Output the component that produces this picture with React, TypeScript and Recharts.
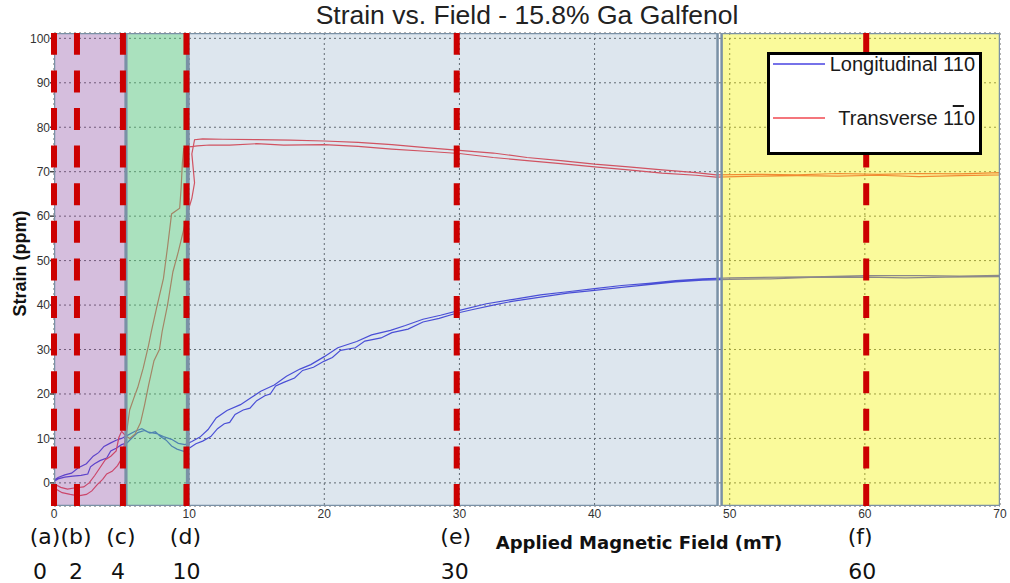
import React from 'react';
import { LineChart, Line, XAxis, YAxis, CartesianGrid, ReferenceArea, ReferenceLine, Legend } from 'recharts';

type Pt = [number, number];

// field (mT), strain (ppm) — rising then falling branch of each loop
const longitudinalUp: Pt[] = [
  [0, 0.3], [0.3, 0.9], [0.8, 1.3], [1.4, 1.5], [2.0, 1.7], [2.5, 2.0], [2.7, 3.6], [3.0, 4.3], [3.4, 5.0],
  [3.9, 5.6], [4.2, 7.2], [4.6, 7.8], [5.0, 8.6], [5.4, 9.0], [5.8, 10.2], [6.2, 11.3], [6.7, 11.8], [7.1, 11.2],
  [7.5, 11.5], [7.9, 10.4], [8.3, 9.6], [8.7, 8.3], [9.1, 7.6], [9.6, 7.1], [10.0, 7.8], [10.5, 8.8], [11.0, 9.4],
  [11.6, 10.4], [12.1, 12.2], [12.6, 13.3], [13.0, 13.6], [13.4, 15.4], [14.0, 16.4], [14.5, 16.8], [15.0, 18.5],
  [15.6, 19.6], [16.0, 20.0], [16.4, 21.8], [17.0, 22.6], [17.8, 23.6], [18.4, 25.3], [19.2, 26.0], [20.0, 27.4],
  [20.6, 28.2], [21.2, 29.8], [22.3, 30.4], [23.0, 31.9], [24.2, 32.6], [25.0, 33.8], [26.2, 34.6], [27.3, 36.2],
  [28.5, 37.0], [29.7, 38.1], [31.0, 39.0], [32.5, 40.0], [34.0, 40.9], [36.0, 41.8], [38.0, 42.7], [40.0, 43.3],
  [42.0, 44.0], [44.0, 44.6], [46.0, 45.2], [48.0, 45.6], [50.0, 45.8], [53.0, 45.9], [56.0, 46.2], [60.0, 46.3],
  [63.0, 46.1], [66.0, 46.3], [70.0, 46.4],
];
const longitudinalDown: Pt[] = [
  [70.0, 46.7], [67.0, 46.5], [64.0, 46.6], [60.0, 46.6], [57.0, 46.4], [54.0, 46.3], [50.0, 46.1], [48.0, 45.9],
  [46.0, 45.5], [44.0, 44.9], [42.0, 44.4], [40.0, 43.7], [38.0, 43.0], [36.0, 42.3], [34.0, 41.3], [32.0, 40.3],
  [30.0, 38.8], [28.6, 37.7], [27.3, 36.8], [26.0, 35.4], [24.9, 34.3], [23.5, 33.3], [22.4, 31.8], [21.0, 30.4],
  [20.0, 28.4], [19.0, 26.6], [18.2, 25.6], [17.2, 24.0], [16.3, 22.0], [15.3, 20.6], [14.6, 19.2], [13.8, 17.6],
  [12.8, 16.3], [12.0, 14.6], [11.4, 12.0], [10.8, 10.3], [10.2, 9.3], [9.7, 8.6], [9.2, 8.9], [8.7, 9.8],
  [8.1, 10.4], [7.6, 11.1], [7.0, 11.4], [6.5, 12.2], [6.0, 11.6], [5.5, 10.8], [5.0, 10.0], [4.6, 9.6], [4.2, 9.0],
  [3.7, 8.2], [3.3, 6.8], [2.9, 6.0], [2.4, 4.3], [1.8, 3.4], [1.3, 2.2], [0.8, 1.8], [0.3, 1.2], [0, 0.6],
];
const transverseUp: Pt[] = [
  [0, -0.3], [0.2, -1.5], [0.6, -2.2], [1.2, -2.6], [1.8, -2.9], [2.4, -2.6], [2.8, -1.8], [3.2, -0.4], [3.6, 0.8],
  [3.9, 2.0], [4.3, 2.6], [4.7, 3.9], [5.0, 5.4], [5.2, 8.5], [5.4, 12.0], [5.6, 16.4], [5.9, 19.0], [6.2, 21.5],
  [6.6, 25.8], [7.0, 31.0], [7.2, 34.0], [7.6, 39.5], [8.1, 46.0], [8.4, 53.0], [8.7, 60.5], [9.3, 61.8], [9.4, 66.0],
  [9.5, 72.0], [9.6, 75.2], [10.0, 75.6], [10.6, 75.8], [11.5, 76.0], [13.0, 76.0], [15.0, 76.3], [17.0, 76.0],
  [20.0, 76.1], [22.5, 75.7], [25.0, 75.1], [27.5, 74.6], [30.0, 74.1], [32.5, 73.2], [35.0, 72.5], [37.5, 71.8],
  [40.0, 71.1], [42.5, 70.4], [45.0, 69.7], [47.5, 69.2], [49.0, 68.8], [52.0, 69.0], [55.0, 69.1], [58.0, 69.0],
  [61.0, 69.2], [64.0, 68.9], [67.0, 69.1], [70.0, 69.3],
];
const transverseDown: Pt[] = [
  [70.0, 69.8], [67.0, 69.5], [64.0, 69.6], [61.0, 69.4], [58.0, 69.6], [55.0, 69.3], [52.0, 69.4], [49.0, 69.3],
  [47.5, 69.8], [45.0, 70.4], [42.5, 71.1], [40.0, 71.7], [37.5, 72.5], [35.0, 73.2], [32.5, 74.2], [30.0, 74.8],
  [27.5, 75.4], [25.0, 76.1], [22.5, 76.6], [20.0, 76.9], [17.5, 77.1], [15.0, 77.2], [12.5, 77.3], [11.0, 77.4],
  [10.4, 77.2], [10.2, 74.0], [10.4, 67.5], [10.2, 64.0], [9.9, 61.0], [9.6, 57.0], [9.2, 52.0], [8.8, 47.5],
  [8.4, 40.0], [8.0, 34.0], [7.8, 30.0], [7.4, 27.5], [7.0, 22.0], [6.7, 17.5], [6.4, 13.5], [6.0, 11.0],
  [5.6, 10.0], [5.3, 10.6], [5.0, 11.6], [4.8, 10.2], [4.6, 7.2], [4.2, 6.0], [3.8, 5.2], [3.4, 3.4], [3.0, 1.6],
  [2.6, 0.0], [2.2, -0.9], [1.6, -1.1], [1.0, -1.4], [0.5, -1.0], [0, -0.2],
];

const seriesNames = ['Longitudinal 110', 'Transverse 110'];

// shaded field regions (mT)
const regionStart = [0, 5.35, 9.95, 49.4];
const regionEnd = [5.3, 9.85, 49.1, 70];

// dashed markers
const markerField = [0, 1.7, 5.1, 9.8, 29.8, 60.1];
const markerLetter = ['(a)', '(b)', '(c)', '(d)', '(e)', '(f)'];
const markerValue = ['0', '2', '4', '10', '30', '60'];

const xTicks = [0, 10, 20, 30, 40, 50, 60, 70];
const yTicks = [0, 10, 20, 30, 40, 50, 60, 70, 80, 90, 100];

const regionFill = ['#87459f', '#55c37d', '#5582aa', '#f3f305'];
const regionOpacity = [0.35, 0.5, 0.2, 0.4];
const letterNudge = [-9, -1, -2, -1, -1, -6];
const valueNudge = [-14, -1, -5, 0, -2, -4];

const toPoints = (up: Pt[], down: Pt[]) => [...up, ...down].map(([x, y]) => ({ x, y }));

const gothic = '"DejaVu Sans", sans-serif';
const arial = '"Liberation Sans", Arial, sans-serif';

function MarkerLabel(props: any) {
  const { viewBox, index } = props;
  if (!viewBox) return null;
  const x = viewBox.x;
  const bottom = viewBox.y + viewBox.height;
  return (
    <g fontFamily={gothic} fontSize={22} fill="#111">
      <text x={x + letterNudge[index]} y={bottom + 38} textAnchor="middle">{markerLetter[index]}</text>
      <text x={x + valueNudge[index]} y={bottom + 73} textAnchor="middle">{markerValue[index]}</text>
    </g>
  );
}

function XLabel(props: any) {
  const { viewBox } = props;
  const cx = viewBox.x + viewBox.width / 2 + 112;
  return (
    <text x={cx} y={viewBox.y + 43} textAnchor="middle" fontFamily={gothic} fontWeight="bold" fontSize={18} fill="#111">
      Applied Magnetic Field (mT)
    </text>
  );
}

function YLabel(props: any) {
  const { viewBox } = props;
  const cx = viewBox.x + 20;
  const cy = viewBox.y + viewBox.height / 2 - 6;
  return (
    <text x={cx} y={cy} transform={`rotate(-90 ${cx} ${cy})`} textAnchor="middle" dominantBaseline="central"
      fontFamily={arial} fontWeight="bold" fontSize={18} fill="#111">
      Strain (ppm)
    </text>
  );
}

function LegendBox(props: any) {
  const payload = props.payload || [];
  return (
    <div style={{ width: 209, height: 97, border: '3px solid #000', background: '#fff', position: 'relative', fontFamily: arial, fontSize: 20, color: '#1a1a1a' }}>
      {payload.map((entry: any, i: number) => {
        const top = i === 0 ? 9 : 63;
        const name: string = entry.value;
        return (
          <div key={name} style={{ position: 'absolute', left: 0, top: top - 12, width: 209, height: 24 }}>
            <svg width={56} height={24} style={{ position: 'absolute', left: 3, top: 0 }}>
              <line x1={0} y1={12} x2={52} y2={12} stroke={entry.color} strokeWidth={1.5} />
            </svg>
            <div style={{ position: 'absolute', right: 4, top: 0, lineHeight: '24px', whiteSpace: 'nowrap' }}>
              {i === 1 ? (
                <>
                  {name.slice(0, -2)}
                  <span style={{ textDecoration: 'overline' }}>{name.slice(-2, -1)}</span>
                  {name.slice(-1)}
                </>
              ) : name}
            </div>
          </div>
        );
      })}
    </div>
  );
}

export default function App() {
  return (
    <div style={{ position: 'absolute', left: 0, top: 0, width: 1010, height: 583, background: '#fff' }}>
      <div style={{ position: 'absolute', left: 0, top: 0, width: 1054, textAlign: 'center', fontFamily: arial, fontSize: 26.5, color: '#222', lineHeight: '30px' }}>
        Strain vs. Field - 15.8% Ga Galfenol
      </div>
      <LineChart width={1010} height={583} margin={{ top: 33, right: 10, bottom: 57, left: 0 }}>
        <CartesianGrid stroke="#666" strokeDasharray="2 3" />
        <XAxis dataKey="x" type="number" domain={[0, 70]} ticks={xTicks} allowDataOverflow height={20}
          axisLine={false} tickLine={false} tickSize={0} tickMargin={3}
          tick={{ fontSize: 12, fill: '#333', fontFamily: arial }}
          label={<XLabel />} />
        <YAxis type="number" domain={[-5.2, 101.2]} ticks={yTicks} allowDataOverflow width={54}
          axisLine={false} tickSize={4} tickMargin={0} tickLine={{ stroke: '#444', strokeWidth: 1.5 }}
          tick={{ fontSize: 12, fill: '#333', fontFamily: arial }}
          label={<YLabel />} />
        <Line data={toPoints(longitudinalUp, longitudinalDown)} dataKey="y" name={seriesNames[0]} stroke="#4843e2"
          strokeWidth={1.2} dot={false} isAnimationActive={false} />
        <Line data={toPoints(transverseUp, transverseDown)} dataKey="y" name={seriesNames[1]} stroke="#f04850"
          strokeWidth={1.2} dot={false} isAnimationActive={false} />
        {regionStart.map((x1, i) => (
          <ReferenceArea key={`r${i}`} x1={x1} x2={regionEnd[i]} fill={regionFill[i]} fillOpacity={regionOpacity[i]}
            stroke="#7a91a6" strokeWidth={2.5} ifOverflow="hidden" zIndex={500} />
        ))}
        {markerField.map((x, i) => (
          <ReferenceLine key={`m${i}`} x={x} stroke="#cc0000" strokeWidth={6} strokeDasharray="22 15.6"
            ifOverflow="visible" zIndex={600} label={<MarkerLabel index={i} />} />
        ))}
        <Legend layout="horizontal" verticalAlign="middle" align="center" content={<LegendBox />}
          wrapperStyle={{ left: 767, top: 52, width: 215, height: 103 }} />
      </LineChart>
    </div>
  );
}
